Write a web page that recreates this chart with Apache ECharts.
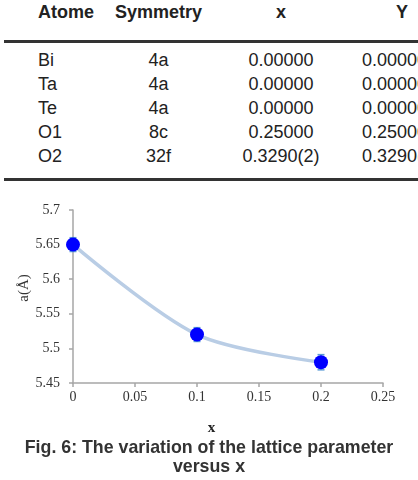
<!DOCTYPE html>
<html>
<head>
<meta charset="utf-8">
<script src="https://cdn.jsdelivr.net/npm/echarts@6/dist/echarts.min.js"></script>
<style>
  html, body { margin: 0; padding: 0; background: #fff; }
  body { width: 418px; height: 480px; position: relative; overflow: hidden;
         font-family: "Liberation Sans", Arial, sans-serif; color: #222; }
  .cell { position: absolute; font-size: 18px; line-height: 24px; height: 24px; white-space: nowrap; }
  .head { font-weight: bold; }
  .rule { position: absolute; left: 4px; width: 414px; height: 3px; background: #333; }
  #chart { position: absolute; left: 0; top: 190px; width: 418px; height: 250px; }
  .caption { position: absolute; left: 0; width: 418px; text-align: center;
             font-weight: bold; font-size: 17.8px; line-height: 19px; color: #333; }
</style>
</head>
<body>
<div class="rule" style="top:39.5px"></div>
<div class="rule" style="top:178px"></div>
<div id="chart"></div>
<div class="caption" style="top:438px">Fig. 6: The variation of the lattice parameter<br>versus x</div>
<script>
// table (top part)
const headers = ['Atome', 'Symmetry', 'x', 'Y'];
const atoms = ['Bi', 'Ta', 'Te', 'O1', 'O2'];
const symmetry = ['4a', '4a', '4a', '8c', '32f'];
const posX = ['0.00000', '0.00000', '0.00000', '0.25000', '0.3290(2)'];
const posY = ['0.00000', '0.00000', '0.00000', '0.25000', '0.3290(2)'];

// chart data: lattice parameter a vs x
const xValues = [0, 0.1, 0.2];
const latticeA = [5.65, 5.52, 5.48];
const errA = [0.01, 0.01, 0.011];

function cell(text, top, left, align, cls) {
    const d = document.createElement('div');
    d.className = 'cell' + (cls ? ' ' + cls : '');
    d.textContent = text;
    d.style.top = top + 'px';
    if (align === 'center') {
        d.style.left = (left - 100) + 'px';
        d.style.width = '200px';
        d.style.textAlign = 'center';
    } else {
        d.style.left = left + 'px';
    }
    document.body.appendChild(d);
}

cell(headers[0], 0, 38, 'left', 'head');
cell(headers[1], 0, 158.5, 'center', 'head');
cell(headers[2], 0, 281, 'center', 'head');
cell(headers[3], 0, 402, 'center', 'head');
atoms.forEach((a, i) => {
    const top = 48 + i * 24;
    cell(a, top, 38, 'left');
    cell(symmetry[i], top, 158.5, 'center');
    cell(posX[i], top, 281, 'center');
    cell(posY[i], top, 362, 'left');
});

const chart = echarts.init(document.getElementById('chart'));

const serif = '"Liberation Serif", "Times New Roman", serif';

chart.setOption({
    animation: false,
    grid: { left: 73, right: 35, top: 20, bottom: 57 },
    xAxis: {
        type: 'value',
        min: 0,
        max: 0.25,
        interval: 0.05,
        axisLine: { lineStyle: { color: '#a6a6a6', width: 1.5 } },
        axisTick: { show: true, length: 4, lineStyle: { color: '#a6a6a6', width: 1.5 } },
        splitLine: { show: false },
        axisLabel: { fontFamily: serif, fontSize: 14, color: '#333', margin: 7 }
    },
    yAxis: {
        type: 'value',
        min: 5.45,
        max: 5.7,
        interval: 0.05,
        axisLine: { show: true, lineStyle: { color: '#a6a6a6', width: 1.5 } },
        axisTick: { show: true, length: 4, lineStyle: { color: '#a6a6a6', width: 1.5 } },
        splitLine: { show: false },
        axisLabel: { fontFamily: serif, fontSize: 14, color: '#333', margin: 13 }
    },
    graphic: [
        {
            type: 'text', x: 24, y: 98, rotation: Math.PI / 2,
            style: { text: 'a(Å)', font: '15px ' + serif, fill: '#333',
                     align: 'center', verticalAlign: 'middle' }
        },
        {
            type: 'text', x: 211.5, y: 238,
            style: { text: 'x', font: 'bold 15px ' + serif, fill: '#222',
                     align: 'center', verticalAlign: 'middle' }
        }
    ],
    series: [
        {
            type: 'custom',
            z: 1,
            data: xValues.map((x, i) => [x, latticeA[i], errA[i]]),
            renderItem: function (params, api) {
                const x = api.value(0), y = api.value(1), e = api.value(2);
                const hi = api.coord([x, y + e]);
                const lo = api.coord([x, y - e]);
                const style = { stroke: '#5b9bd5', lineWidth: 1.5 };
                return {
                    type: 'group',
                    children: [
                        { type: 'line', shape: { x1: hi[0], y1: hi[1], x2: lo[0], y2: lo[1] }, style: style },
                        { type: 'line', shape: { x1: hi[0] - 3.5, y1: hi[1], x2: hi[0] + 3.5, y2: hi[1] }, style: style },
                        { type: 'line', shape: { x1: lo[0] - 3.5, y1: lo[1], x2: lo[0] + 3.5, y2: lo[1] }, style: style }
                    ]
                };
            }
        },
        {
            type: 'line',
            z: 2,
            smooth: 0.3,
            data: xValues.map((x, i) => [x, latticeA[i]]),
            symbol: 'circle',
            symbolSize: 14,
            itemStyle: { color: '#0000ff' },
            lineStyle: { color: '#b9cde5', width: 3.5 }
        }
    ]
});
</script>
</body>
</html>
